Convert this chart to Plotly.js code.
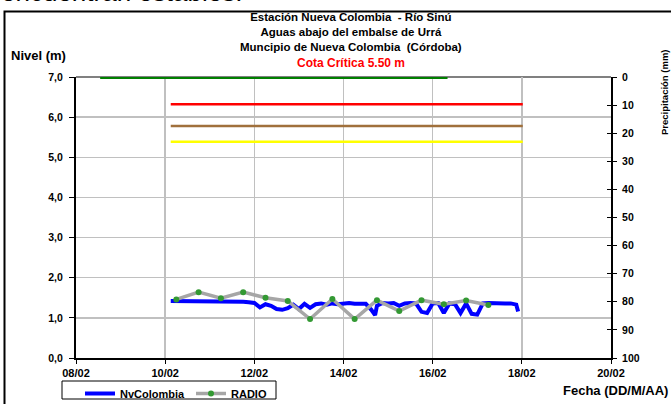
<!DOCTYPE html>
<html>
<head>
<meta charset="utf-8">
<script src="https://cdn.plot.ly/plotly-3.0.1.min.js"></script>
<style>html,body{margin:0;padding:0;background:#fff;}#chart{width:671px;height:404px;}</style>
</head>
<body>
<div id="chart"></div>
<script>
// ---- Data ----
const nvTimes = [
"2011-02-10 03:00","2011-02-10 06:00","2011-02-10 09:00","2011-02-10 12:00","2011-02-10 15:00","2011-02-10 18:00","2011-02-10 21:00",
"2011-02-11 00:00","2011-02-11 03:00","2011-02-11 06:00","2011-02-11 09:00","2011-02-11 12:00","2011-02-11 15:00","2011-02-11 18:00","2011-02-11 21:00",
"2011-02-12 00:00","2011-02-12 03:00","2011-02-12 06:00","2011-02-12 09:00","2011-02-12 12:00","2011-02-12 15:00","2011-02-12 18:00","2011-02-12 21:00",
"2011-02-13 00:00","2011-02-13 03:00","2011-02-13 06:00","2011-02-13 09:00","2011-02-13 12:00","2011-02-13 15:00","2011-02-13 18:00","2011-02-13 21:00",
"2011-02-14 00:00","2011-02-14 03:00","2011-02-14 06:00","2011-02-14 09:00","2011-02-14 12:00","2011-02-14 15:00","2011-02-14 17:00","2011-02-14 18:00","2011-02-14 21:00",
"2011-02-15 00:00","2011-02-15 03:00","2011-02-15 06:00","2011-02-15 09:00","2011-02-15 12:00","2011-02-15 15:00","2011-02-15 18:00","2011-02-15 21:00",
"2011-02-16 00:00","2011-02-16 03:00","2011-02-16 06:00","2011-02-16 09:00","2011-02-16 12:00","2011-02-16 15:00","2011-02-16 18:00","2011-02-16 21:00",
"2011-02-17 00:00","2011-02-17 03:00","2011-02-17 06:00","2011-02-17 09:00","2011-02-17 12:00","2011-02-17 15:00","2011-02-17 18:00","2011-02-17 21:00","2011-02-17 22:00"
];
const nvLevels = [
1.42,1.42,1.42,1.42,1.42,1.42,1.42,
1.42,1.42,1.41,1.41,1.41,1.40,1.40,1.39,
1.37,1.26,1.34,1.30,1.22,1.20,1.24,1.33,
1.22,1.35,1.25,1.34,1.36,1.33,1.36,1.34,
1.36,1.37,1.35,1.36,1.35,1.20,1.07,1.30,1.37,
1.36,1.37,1.30,1.36,1.37,1.36,1.15,1.12,
1.36,1.37,1.12,1.36,1.34,1.12,1.36,1.10,
1.08,1.36,1.37,1.36,1.37,1.36,1.36,1.33,1.16
];
const radioTimes = [
"2011-02-10 06:00","2011-02-10 18:00","2011-02-11 06:00","2011-02-11 18:00","2011-02-12 06:00","2011-02-12 18:00",
"2011-02-13 06:00","2011-02-13 18:00","2011-02-14 06:00","2011-02-14 18:00","2011-02-15 06:00","2011-02-15 18:00",
"2011-02-16 06:00","2011-02-16 18:00","2011-02-17 06:00"
];
const radioLevels = [1.46,1.64,1.49,1.64,1.50,1.42,0.97,1.47,0.97,1.44,1.17,1.44,1.34,1.43,1.32];

const greenTimes = ["2011-02-08 13:00","2011-02-16 08:00"];
const greenLevel = [7.0,7.0];
const alertTimes = ["2011-02-10 03:00","2011-02-18 00:30"];
const redLevel = [6.32,6.32];
const brownLevel = [5.78,5.78];
const yellowLevel = [5.39,5.39];

const xRange = ["2011-02-08","2011-02-20"];
const rainRange = [100, 0];
const titleLines = ["Estación Nueva Colombia  - Río Sinú","Aguas abajo del embalse de Urrá","Muncipio de Nueva Colombia  (Córdoba)"];
const criticalLabel = "Cota Crítica 5.50 m";
const rightTitle = "Precipitación (mm)";

// ---- Chart ----
const FF = "Liberation Sans, Arial, sans-serif";
const bold = (s, c) => ({family: FF, size: s, color: c || "#000", weight: "bold"});

const traces = [
  {x: greenTimes, y: greenLevel, mode: "lines", line: {color: "#008000", width: 4}, showlegend: false, cliponaxis: false, hoverinfo: "skip"},
  {x: alertTimes, y: redLevel, mode: "lines", line: {color: "#ff0000", width: 2.5}, showlegend: false},
  {x: alertTimes, y: brownLevel, mode: "lines", line: {color: "#a0703c", width: 2.5}, showlegend: false},
  {x: alertTimes, y: yellowLevel, mode: "lines", line: {color: "#ffff00", width: 2.5}, showlegend: false},
  {x: nvTimes, y: nvLevels, name: "NvColombia", mode: "lines", line: {color: "#0000ff", width: 4}},
  {x: radioTimes, y: radioLevels, name: "RADIO", mode: "lines+markers", line: {color: "#a6a6a6", width: 3.5}, marker: {color: "#339933", size: 6}},
  {x: [], y: [], yaxis: "y2", mode: "lines", showlegend: false},
  {x: [], y: [], yaxis: "y3", mode: "lines", showlegend: false}
];

const W = 671, H = 404;
const L = 76, R = 611, T = 77, B = 358;
const px = v => (v - L) / (R - L);
const py = v => (B - v) / (B - T);

const annotations = [
  {text: "Nivel (m)", xref: "paper", yref: "paper", x: px(9), y: py(55), xanchor: "left", yanchor: "middle", showarrow: false, font: bold(13)},
  {text: "Fecha (DD/M/AA)", xref: "paper", yref: "paper", x: px(670), y: py(390), xanchor: "right", yanchor: "middle", showarrow: false, font: bold(13)},
  {text: "encuentran estables.", xref: "paper", yref: "paper", x: px(-1), y: py(9), xanchor: "left", yanchor: "bottom", showarrow: false, font: {family: FF, size: 26, color: "#000"}},
  {text: rightTitle, xref: "paper", yref: "paper", x: px(664), y: py(92), xanchor: "center", yanchor: "middle", textangle: -90, showarrow: false, font: bold(9.5)},
  {text: titleLines.join("<br>"), xref: "paper", yref: "paper", x: px(351), y: py(32), xanchor: "center", yanchor: "middle", showarrow: false, font: bold(11.5)},
  {text: criticalLabel, xref: "paper", yref: "paper", x: px(351), y: py(62.5), xanchor: "center", yanchor: "middle", showarrow: false, font: bold(12, "#ff0000")}
];

const layout = {
  width: W, height: H,
  margin: {l: L, r: W - R, t: T, b: H - B, pad: 0},
  paper_bgcolor: "#fff", plot_bgcolor: "#fff",
  separators: ",.",
  xaxis: {
    type: "date", range: xRange, tick0: "2011-02-08", dtick: 2 * 86400000, tickformat: "%d/%m",
    showgrid: true, gridcolor: "#c0c0c0", gridwidth: 1.5, showline: true, linecolor: "#000", linewidth: 2,
    ticks: "outside", ticklen: 4, tickcolor: "#000", tickfont: bold(11), zeroline: false, fixedrange: true
  },
  yaxis: {
    range: [0, 7], dtick: 1, tickformat: ".1f", showgrid: true, gridcolor: "#c0c0c0", gridwidth: 1.5,
    showline: true, linecolor: "#000", linewidth: 2, ticks: "outside", ticklen: 5, tickcolor: "#000",
    tickfont: bold(10.5), zeroline: false, ticklabelstandoff: 4
  },
  yaxis2: {
    overlaying: "y", side: "right", range: rainRange, dtick: 10, showgrid: false, zeroline: false,
    showline: true, linecolor: "#000", linewidth: 2, ticks: "outside", ticklen: 4, tickcolor: "#000", tickfont: bold(10.5),
    ticklabelstandoff: 3
  },
  yaxis3: {
    overlaying: "y", side: "right", range: rainRange, dtick: 10, showgrid: false, zeroline: false,
    showline: false, ticks: "inside", ticklen: 4, tickcolor: "#000", showticklabels: false
  },
  legend: {
    orientation: "h", xref: "container", x: 80 / W, xanchor: "left", yref: "container", y: 1 - 379 / H, yanchor: "top",
    borderwidth: 0, font: bold(11), itemwidth: 30, entrywidth: 66, bgcolor: "rgba(0,0,0,0)"
  },
  shapes: [
    {type: "line", xref: "paper", yref: "paper", x0: 0, x1: 1, y0: 1, y1: 1, line: {color: "#808080", width: 2}, layer: "below"},
    {type: "rect", xref: "paper", yref: "paper", x0: px(4.5), x1: px(700), y0: py(11.5), y1: py(430), line: {color: "#000", width: 2}},
    {type: "rect", xref: "paper", yref: "paper", x0: px(62), x1: px(276), y0: py(381), y1: py(399), line: {color: "#000", width: 1}}
  ],
  annotations: annotations,
  showlegend: true
};

Plotly.newPlot("chart", traces, layout, {staticPlot: true, displayModeBar: false});
</script>
</body>
</html>
